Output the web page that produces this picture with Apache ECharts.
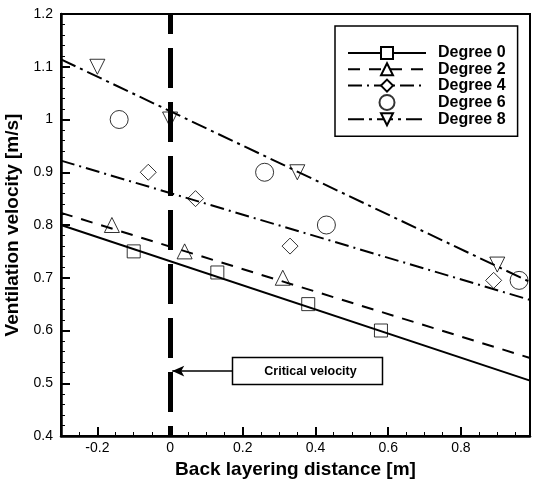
<!DOCTYPE html>
<html>
<head>
<meta charset="utf-8">
<script src="https://cdn.jsdelivr.net/npm/echarts@6/dist/echarts.min.js"></script>
<style>
  html, body { margin: 0; padding: 0; background: #fff; }
  #chart { width: 533px; height: 481px; }
</style>
</head>
<body>
<div id="chart"></div>
<script>
// axis ticks
const xMajorTicks = [-0.2, 0, 0.2, 0.4, 0.6, 0.8];
const xMinorTicks = [-0.25, -0.15, -0.1, -0.05, 0.05, 0.1, 0.15, 0.25, 0.3, 0.35,
                     0.45, 0.5, 0.55, 0.65, 0.7, 0.75, 0.85, 0.9, 0.95];

// measured points [distance, velocity]
const deg0 = [[-0.1, 0.75], [0.13, 0.71], [0.38, 0.65], [0.58, 0.6]];
const deg2 = [[-0.16, 0.8], [0.04, 0.75], [0.31, 0.7]];
const deg4 = [[-0.06, 0.9], [0.07, 0.85], [0.33, 0.76], [0.89, 0.695]];
const deg6 = [[-0.14, 1.0], [0.26, 0.9], [0.43, 0.8], [0.96, 0.695]];
const deg8 = [[-0.2, 1.1], [0, 1.0], [0.35, 0.9], [0.9, 0.725]];

// fitted trend lines (start, end)
const fit0 = [[-0.3, 0.8], [0.99, 0.505]];
const fit2 = [[-0.3, 0.823], [0.99, 0.548]];
const fit4 = [[-0.3, 0.922], [0.99, 0.658]];
const fit8 = [[-0.3, 1.114], [0.99, 0.692]];

// critical velocity annotation
const criticalX = 0;
const arrowStart = [0.174, 0.523];
const arrowEnd = [0.006, 0.523];
const boxCenter = [0.378, 0.523];
const boxText = 'Critical velocity';

const FONT = 'Liberation Sans';
const black = '#000';

const hollow = { color: 'rgba(0,0,0,0)', borderColor: black, borderWidth: 1 };
const legendFill = { color: '#fff', borderColor: black, borderWidth: 1 };

function fitLine(name, data, symbol, size, type, rotate) {
    return {
        name: name,
        type: 'line',
        data: data,
        symbol: symbol,
        symbolSize: size,
        symbolRotate: rotate || 0,
        showSymbol: false,
        lineStyle: { color: black, width: 2, type: type },
        itemStyle: legendFill,
        z: 2
    };
}

function points(name, data, symbol, size, rotate) {
    return {
        name: name,
        type: 'scatter',
        data: data,
        symbol: symbol,
        symbolSize: size,
        symbolRotate: rotate || 0,
        itemStyle: hollow,
        z: 3
    };
}

const chart = echarts.init(document.getElementById('chart'));

const option = {
    animation: false,
    backgroundColor: '#fff',
    grid: {
        left: 61, right: 3, top: 14, bottom: 45,
        outerBoundsMode: 'none',
        show: true, borderColor: black, borderWidth: 2
    },
    legend: {
        left: 335, top: 26,
        orient: 'vertical',
        data: ['Degree 0', 'Degree 2', 'Degree 4', 'Degree 6', 'Degree 8'],
        itemWidth: 78,
        itemHeight: 15,
        itemGap: 0.3,
        padding: [19, 12, 9, 12],
        borderColor: black,
        borderWidth: 1.5,
        backgroundColor: '#fff',
        selectedMode: false,
        textStyle: {
            fontFamily: FONT, fontWeight: 'bold', fontSize: 16, lineHeight: 16,
            color: black, padding: [0, 0, 0, 7]
        }
    },
    xAxis: [
        {
            type: 'value',
            min: -0.3,
            max: 0.99,
            name: 'Back layering distance [m]',
            nameLocation: 'middle',
            nameGap: 20,
            nameTextStyle: { fontFamily: FONT, fontWeight: 'bold', fontSize: 19, color: black },
            axisLine: { onZero: false, lineStyle: { color: black, width: 2.5 } },
            axisTick: { inside: true, length: 9, customValues: xMajorTicks, lineStyle: { color: black, width: 2 } },
            axisLabel: { customValues: xMajorTicks, fontFamily: FONT, fontSize: 14, color: black, margin: 5 },
            splitLine: { show: false }
        },
        {
            type: 'value',
            min: -0.3,
            max: 0.99,
            position: 'bottom',
            axisLine: { show: false, onZero: false },
            axisTick: { inside: true, length: 4, customValues: xMinorTicks, lineStyle: { color: black, width: 1 } },
            axisLabel: { show: false },
            splitLine: { show: false }
        }
    ],
    yAxis: {
        type: 'value',
        min: 0.4,
        max: 1.2,
        interval: 0.1,
        name: 'Ventilation velocity [m/s]',
        nameLocation: 'middle',
        nameGap: 34,
        nameTextStyle: { fontFamily: FONT, fontWeight: 'bold', fontSize: 19, color: black },
        axisLine: { onZero: false, lineStyle: { color: black, width: 2.5 } },
        axisTick: { inside: true, length: 9, lineStyle: { color: black, width: 2 } },
        minorTick: { show: true, splitNumber: 5, length: 4, lineStyle: { color: black, width: 1 } },
        axisLabel: { fontFamily: FONT, fontSize: 14, color: black, margin: 8 },
        splitLine: { show: false }
    },
    series: [
        fitLine('Degree 0', fit0, 'rect', 13, 'solid'),
        fitLine('Degree 2', fit2, 'triangle', 15, [12, 9]),
        fitLine('Degree 4', fit4, 'diamond', 16, [14, 5, 2, 5]),
        points('Degree 6', deg6, 'circle', 18),
        fitLine('Degree 8', fit8, 'triangle', 15, [16, 5, 3, 5], 180),
        points('Degree 0', deg0, 'rect', 13),
        points('Degree 2', deg2, 'triangle', 15),
        points('Degree 4', deg4, 'diamond', 16),
        points('Degree 8', deg8, 'triangle', 15, 180),
        {
            name: 'critical',
            type: 'line',
            data: [],
            markLine: {
                silent: true,
                symbol: 'none',
                label: { show: false },
                lineStyle: { color: black, width: 5, type: [40, 14], dashOffset: 30 },
                data: [{ xAxis: criticalX }]
            }
        },
        {
            name: 'arrow',
            type: 'line',
            data: [],
            markLine: {
                silent: true,
                symbol: ['none', 'arrow'],
                symbolSize: [8, 12],
                label: { show: false },
                lineStyle: { color: black, width: 1.5, type: 'solid' },
                data: [[{ coord: arrowStart }, { coord: arrowEnd }]]
            }
        }
    ]
};

chart.setOption(option);

// annotation box placed from data coordinates
const c = chart.convertToPixel({ gridIndex: 0 }, boxCenter);
chart.setOption({
    graphic: [
        {
            type: 'rect',
            shape: { x: c[0] - 75, y: c[1] - 13.5, width: 150, height: 27 },
            style: { fill: '#fff', stroke: black, lineWidth: 1.5 },
            z: 10
        },
        {
            type: 'text',
            x: c[0] + 3,
            y: c[1],
            style: {
                text: boxText,
                fontFamily: FONT, fontWeight: 'bold', fontSize: 12.5, fill: black,
                align: 'center', verticalAlign: 'middle'
            },
            z: 11
        }
    ]
});
</script>
</body>
</html>
